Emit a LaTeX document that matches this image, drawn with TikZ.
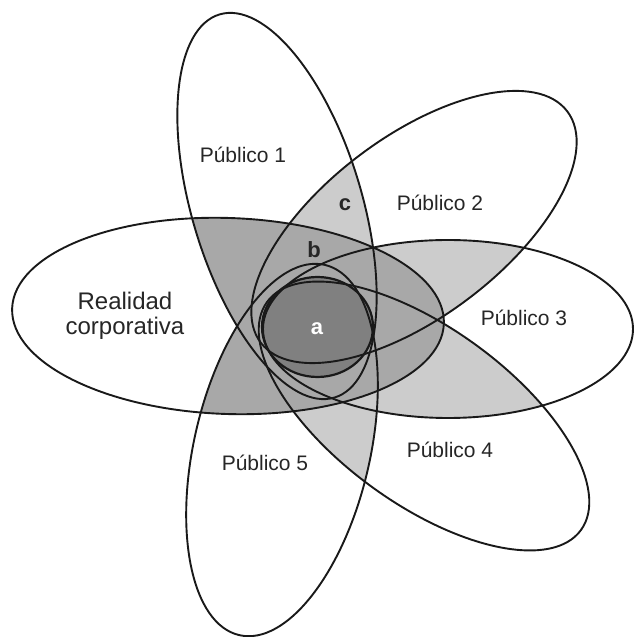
\documentclass[tikz,border=0pt]{standalone}
\usepackage{fontspec}
\setmainfont{Liberation Sans}
\definecolor{grisclaro}{gray}{0.80}
\definecolor{grismedio}{gray}{0.66}
\definecolor{grisoscuro}{gray}{0.50}
\tikzset{
  contorno/.style={line width=1.9pt,black!90},
  publico/.style={font=\fontsize{21}{23}\selectfont,text=black!85},
  zona/.style={font=\fontsize{22}{24}\selectfont\bfseries,text=black!85}
}
\begin{document}
\begin{tikzpicture}[x=1pt,y=1pt]

\newcommand{\realidad}[1]{% comando de dibujo
#1[shift={(228,321)},rotate=-2] (0,0) ellipse [x radius=216,y radius=98];
}
\newcommand{\pubA}[1]{%
#1[shift={(277,431)},rotate=-73.3] (0,0) ellipse [x radius=200,y radius=85];
}
\newcommand{\pubB}[1]{%
#1[shift={(414,410)},rotate=37] (0,0) ellipse [x radius=192,y radius=90];
}
\newcommand{\pubC}[1]{%
#1[shift={(448,308)},rotate=0] (0,0) ellipse [x radius=185,y radius=89];
}
\newcommand{\pubD}[1]{%
#1[shift={(424,221)},rotate=-36] (0,0) ellipse [x radius=194,y radius=88];
}
\newcommand{\pubE}[1]{%
#1[shift={(282,187)},rotate=77] (0,0) ellipse [x radius=190,y radius=88];
}

\useasboundingbox (0,0) rectangle (633,637);

%publicos que se cortan
\foreach \i/\j in {A/B,A/C,A/D,A/E,B/C,B/D,B/E,C/D,C/E,D/E} {
  \begin{scope}
    \csname pub\i\endcsname{\clip}
    \csname pub\j\endcsname{\fill[grisclaro]}
  \end{scope}
}
%realidad y publicos
\begin{scope}
  \realidad{\clip}
  \pubA{\fill[grismedio]}
  \pubB{\fill[grismedio]}
  \pubC{\fill[grismedio]}
  \pubD{\fill[grismedio]}
  \pubE{\fill[grismedio]}
\end{scope}
%zona a
\fill[grisoscuro] (317.5,310) ellipse [x radius=55.5,y radius=50];

%contornos
\realidad{\draw[contorno]}
\pubA{\draw[contorno]}
\pubB{\draw[contorno]}
\pubC{\draw[contorno]}
\pubD{\draw[contorno]}
\pubE{\draw[contorno]}
\draw[contorno,line width=2.2pt] (317.5,310) ellipse [x radius=55.5,y radius=50];

%textos
\node[font=\fontsize{24}{25}\selectfont,text=black!85,align=center] (real) at (125,321) {Realidad\\corporativa};
\node[publico] (pub1) at (243,482) {Público 1};
\node[publico] (pub2) at (440,434) {Público 2};
\node[publico] (pub3) at (524,319) {Público 3};
\node[publico] (pub4) at (450,187) {Público 4};
\node[publico] (pub5) at (265,174) {Público 5};
\node[zona,text=white] (za) at (317,308) {a};
\node[zona] (zb) at (314,387) {b};
\node[zona] (zc) at (345,432) {c};

\end{tikzpicture}
\end{document}
